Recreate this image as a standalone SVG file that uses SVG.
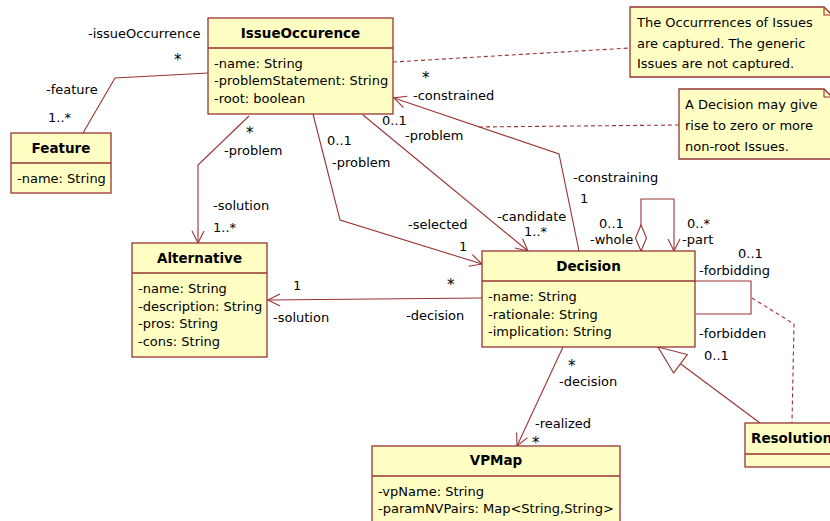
<svg xmlns="http://www.w3.org/2000/svg" width="830" height="521" viewBox="0 0 830 521">
<style>
.box{fill:#ffffc4;stroke:#993333;stroke-width:1.3}
.div{stroke:#993333;stroke-width:1.3}
.t{font-family:"DejaVu Sans",Verdana,sans-serif;font-size:13px;fill:#000}
.s{font-family:"DejaVu Sans",Verdana,sans-serif;font-size:15px;fill:#000}
.b{font-family:"DejaVu Sans",Verdana,sans-serif;font-size:13.5px;font-weight:bold;fill:#000;text-anchor:middle}
.c{fill:none;stroke:#993333;stroke-width:1.1}
.d{fill:none;stroke:#993333;stroke-width:1.1;stroke-dasharray:4,3}
</style>
<defs>
<marker id="arr" markerUnits="userSpaceOnUse" markerWidth="14" markerHeight="14" refX="12" refY="6" orient="auto" overflow="visible">
<path d="M0,0 L12,6 L0,12" fill="none" stroke="#993333" stroke-width="1.1"/>
</marker>
<marker id="tri" markerUnits="userSpaceOnUse" markerWidth="30" markerHeight="26" refX="28" refY="11.5" orient="auto" overflow="visible">
<path d="M0,0 L28,11.5 L0,23 Z" fill="#fff" stroke="#993333" stroke-width="1.1"/>
</marker>
<marker id="dia" markerUnits="userSpaceOnUse" markerWidth="28" markerHeight="14" refX="0" refY="5.5" orient="auto" overflow="visible">
<path d="M0,5.5 L13,0 L26,5.5 L13,11 Z" fill="#fff" stroke="#993333" stroke-width="1.1"/>
</marker>
</defs>
<rect width="830" height="521" fill="#fff"/>

<g id="connectors">
<polyline class="c" points="208,73 115,78 83,133"/>
<polyline class="c" points="249,116 198,165 198,243" marker-end="url(#arr)"/>
<polyline class="c" points="313,114 340,220 482,264" marker-end="url(#arr)"/>
<polyline class="c" points="363,115 528,251" marker-end="url(#arr)"/>
<polyline class="c" points="579,251 559,154 394,98" marker-end="url(#arr)"/>
<polyline class="c" points="641,251 641,199 674,199 674,251" marker-start="url(#dia)" marker-end="url(#arr)"/>
<polyline class="c" points="695,281 751,281 751,314 696,314"/>
<polyline class="c" points="482,298 375,299 268,300" marker-end="url(#arr)"/>
<polyline class="c" points="563,347 517,446" marker-end="url(#arr)"/>
<polyline class="c" points="760,423 658,347" marker-end="url(#tri)"/>
<polyline class="d" points="393,62 630,48"/>
<polyline class="d" points="679,125 577,126 476,127"/>
<polyline class="d" points="752,298 794,324 792,423"/>
</g>

<g id="labels">
<text class="t" x="88" y="37.5">-issueOccurrence</text>
<text class="s" x="174" y="64.5">*</text>
<text class="t" x="46" y="93.5">-feature</text>
<text class="t" x="48" y="121.5">1..*</text>
<text class="s" x="246" y="138">*</text>
<text class="t" x="224" y="155">-problem</text>
<text class="t" x="213" y="209.5">-solution</text>
<text class="t" x="213" y="232">1..*</text>
<text class="t" x="327" y="145">0..1</text>
<text class="t" x="332" y="166.5">-problem</text>
<text class="t" x="382" y="125">0..1</text>
<text class="t" x="405" y="140">-problem</text>
<text class="s" x="422" y="82.5">*</text>
<text class="t" x="413" y="100">-constrained</text>
<text class="t" x="573" y="182">-constraining</text>
<text class="t" x="580" y="203">1</text>
<text class="t" x="408" y="229">-selected</text>
<text class="t" x="459" y="251">1</text>
<text class="t" x="497" y="221">-candidate</text>
<text class="t" x="524" y="236">1..*</text>
<text class="t" x="599" y="228">0..1</text>
<text class="t" x="590" y="244">-whole</text>
<text class="t" x="687" y="228">0..*</text>
<text class="t" x="682" y="244">-part</text>
<text class="t" x="738" y="258">0..1</text>
<text class="t" x="699" y="275">-forbidding</text>
<text class="t" x="699" y="337.5">-forbidden</text>
<text class="t" x="704" y="360">0..1</text>
<text class="s" x="447" y="289.5">*</text>
<text class="t" x="406" y="319.5">-decision</text>
<text class="t" x="293" y="290">1</text>
<text class="t" x="273" y="321.5">-solution</text>
<text class="s" x="568" y="371">*</text>
<text class="t" x="559" y="386">-decision</text>
<text class="t" x="535" y="428">-realized</text>
<text class="s" x="532" y="448">*</text>
</g>

<g id="IssueOccurence">
<rect class="box" x="208" y="18" width="185" height="96"/>
<line class="div" x1="208" y1="48" x2="393" y2="48"/>
<text class="b" x="300.5" y="38">IssueOccurence</text>
<text class="t" x="214" y="67.5">-name: String</text>
<text class="t" x="214" y="85">-problemStatement: String</text>
<text class="t" x="214" y="102.5">-root: boolean</text>
</g>

<g id="Feature">
<rect class="box" x="11" y="133" width="100" height="60"/>
<line class="div" x1="11" y1="163" x2="111" y2="163"/>
<text class="b" x="61" y="152.5">Feature</text>
<text class="t" x="17" y="183">-name: String</text>
</g>

<g id="Alternative">
<rect class="box" x="132" y="243" width="135" height="114"/>
<line class="div" x1="132" y1="273" x2="267" y2="273"/>
<text class="b" x="199.5" y="263">Alternative</text>
<text class="t" x="138" y="292.5">-name: String</text>
<text class="t" x="138" y="310.5">-description: String</text>
<text class="t" x="138" y="328">-pros: String</text>
<text class="t" x="138" y="346">-cons: String</text>
</g>

<g id="Decision">
<rect class="box" x="482" y="251" width="213" height="96"/>
<line class="div" x1="482" y1="281" x2="695" y2="281"/>
<text class="b" x="588.5" y="271">Decision</text>
<text class="t" x="488" y="301">-name: String</text>
<text class="t" x="488" y="318.5">-rationale: String</text>
<text class="t" x="488" y="336">-implication: String</text>
</g>

<g id="VPMap">
<rect class="box" x="372" y="446" width="248" height="90"/>
<line class="div" x1="372" y1="476" x2="620" y2="476"/>
<text class="b" x="496" y="465">VPMap</text>
<text class="t" x="378" y="496">-vpName: String</text>
<text class="t" x="378" y="513">-paramNVPairs: Map&lt;String,String&gt;</text>
</g>

<g id="Resolution">
<rect class="box" x="745" y="423" width="110" height="44"/>
<line class="div" x1="745" y1="454" x2="855" y2="454"/>
<text class="b" x="751" y="443" style="text-anchor:start">Resolution</text>
</g>

<g id="Note1">
<path class="box" d="M630,7 L824,7 L832,15 L832,77 L630,77 Z"/>
<path class="c" d="M824,7 L824,15 L832,15"/>
<text class="t" x="637" y="26.5">The Occurrrences of Issues</text>
<text class="t" x="637" y="47.5">are captured. The generic</text>
<text class="t" x="637" y="68">Issues are not captured.</text>
</g>

<g id="Note2">
<path class="box" d="M679,89 L824,89 L832,97 L832,159 L679,159 Z"/>
<path class="c" d="M824,89 L824,97 L832,97"/>
<text class="t" x="685" y="109">A Decision may give</text>
<text class="t" x="685" y="130">rise to zero or more</text>
<text class="t" x="685" y="151">non-root Issues.</text>
</g>
</svg>
